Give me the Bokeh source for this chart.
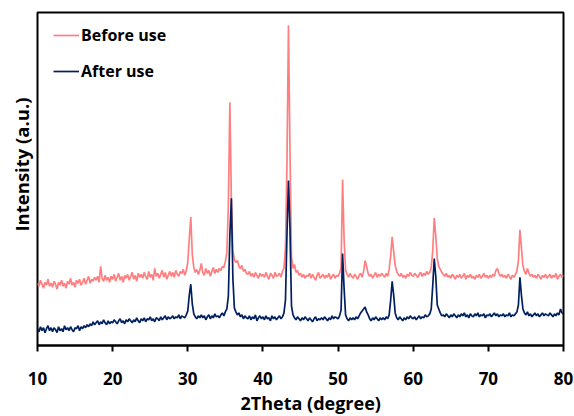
from bokeh.plotting import figure
from bokeh.models import Range1d, FixedTicker, Legend, LegendItem, Title
from bokeh.embed import file_html
from bokeh.resources import INLINE

# 2Theta sampling: start 10 deg, step 0.2 deg
x_start = 10.0
x_step = 0.2

# Intensity (arbitrary units)
before_use = [
    63, 60, 66, 62, 58, 64, 61, 67, 60, 63,
    59, 65, 62, 57, 64, 61, 66, 60, 63, 58,
    65, 62, 68, 61, 64, 59, 66, 63, 67, 61,
    64, 68, 62, 66, 70, 63, 67, 65, 69, 66,
    70, 64, 80, 68, 65, 71, 66, 69, 64, 70,
    67, 72, 65, 69, 73, 66, 70, 64, 71, 68,
    72, 66, 70, 74, 67, 71, 65, 73, 69, 72,
    68, 74, 70, 67, 75, 69, 72, 66, 78, 70,
    73, 68, 72, 76, 69, 74, 67, 71, 75, 70,
    74, 69, 76, 72, 70, 75, 73, 77, 71, 76,
    84, 108, 130, 92, 79, 74, 77, 72, 76, 83,
    74, 71, 78, 73, 76, 70, 75, 79, 73, 77,
    74, 78, 76, 80, 79, 85, 94, 142, 246, 148,
    96, 87, 84, 86, 80, 78, 81, 75, 77, 73,
    72, 75, 70, 73, 69, 74, 71, 68, 73, 70,
    72, 69, 74, 70, 67, 73, 71, 68, 74, 70,
    71, 73, 69, 75, 78, 99, 185, 324, 198, 90,
    78, 82, 74, 76, 71, 73, 69, 72, 68, 71,
    70, 73, 68, 72, 69, 66, 71, 74, 68, 70,
    72, 68, 71, 69, 73, 67, 70, 72, 68, 71,
    70, 73, 79, 168, 108, 76, 72, 69, 73, 70,
    68, 72, 70, 67, 71, 73, 69, 75, 86, 80,
    73, 70, 72, 68, 71, 74, 69, 72, 70, 73,
    71, 69, 73, 70, 77, 91, 110, 95, 81, 75,
    72, 70, 73, 69, 71, 68, 72, 70, 74, 71,
    70, 73, 71, 69, 72, 74, 70, 73, 71, 75,
    72, 74, 79, 96, 129, 111, 88, 80, 77, 74,
    72, 70, 73, 69, 71, 68, 72, 70, 67, 71,
    69, 72, 68, 70, 73, 67, 71, 69, 72, 68,
    70, 67, 71, 69, 72, 68, 70, 73, 69, 71,
    68, 71, 69, 72, 70, 76, 78, 73, 70, 72,
    69, 71, 68, 72, 70, 67, 71, 69, 72, 75,
    86, 117, 99, 81, 75, 72, 78, 73, 70, 72,
    69, 71, 68, 72, 70, 67, 71, 69, 72, 68,
    70, 72, 68, 71, 69, 73, 67, 70, 72, 69,
    71,
]

after_use = [
    17, 14, 19, 15, 18, 13, 17, 20, 15, 18,
    14, 18, 16, 13, 19, 15, 17, 14, 20, 16,
    18, 15, 19, 16, 14, 18, 17, 20, 15, 19,
    17, 20, 18, 21, 19, 22, 20, 24, 21, 23,
    25, 21, 24, 22, 26, 23, 21, 25, 22, 24,
    23, 26, 24, 22, 25, 27, 23, 25, 22, 26,
    24, 27, 25, 23, 26, 24, 28, 25, 23, 27,
    25, 28, 24, 27, 26, 29, 25, 27, 24, 28,
    27, 25, 29, 26, 28, 30, 26, 29, 27, 28,
    30, 27, 29, 28, 31, 27, 30, 29, 28, 31,
    35, 51, 62, 42, 32, 29, 27, 30, 28, 31,
    28, 30, 26, 29, 31, 27, 30, 28, 32, 29,
    30, 28, 31, 33, 30, 34, 37, 50, 112, 149,
    68, 38, 34, 31, 33, 29, 31, 27, 30, 28,
    27, 30, 26, 29, 27, 31, 25, 28, 30, 27,
    29, 26, 30, 27, 28, 25, 30, 27, 29, 26,
    28, 30, 27, 29, 33, 46, 112, 167, 118, 40,
    31, 28, 26, 29, 27, 25, 28, 26, 29, 27,
    25, 28, 26, 24, 27, 29, 25, 27, 26, 28,
    26, 29, 27, 25, 28, 26, 30, 27, 29, 28,
    27, 30, 36, 93, 58, 31, 27, 25, 28, 26,
    28, 26, 29, 27, 30, 33, 35, 37, 39, 34,
    31, 27, 25, 28, 26, 29, 27, 25, 28, 26,
    28, 26, 29, 27, 31, 46, 65, 51, 33, 28,
    26, 29, 27, 25, 28, 26, 29, 27, 30, 28,
    27, 29, 26, 28, 30, 27, 29, 28, 31, 29,
    30, 32, 37, 61, 88, 70, 41, 37, 33, 30,
    31, 29, 32, 30, 28, 31, 29, 32, 30, 28,
    31, 29, 32, 30, 33, 29, 31, 28, 32, 30,
    29, 32, 30, 33, 29, 31, 30, 32, 28, 31,
    30, 32, 29, 31, 33, 30, 32, 29, 31, 30,
    32, 29, 31, 30, 33, 29, 31, 30, 32, 34,
    41, 69, 51, 37, 33, 31, 34, 30, 32, 29,
    31, 33, 30, 32, 29, 31, 33, 30, 32, 31,
    30, 33, 31, 29, 32, 30, 33, 31, 37, 33,
    32,
]

two_theta = [round(x_start + i * x_step, 1) for i in range(len(before_use))]

x_ticks = [10, 20, 30, 40, 50, 60, 70, 80]
series_labels = ["Before use", "After use"]
x_title = "2Theta (degree)"
y_title = "Intensity (a.u.)"

FONT = "Open Sans"

p = figure(width=574, height=416, output_backend="svg", toolbar_location=None,
           x_range=Range1d(10, 80), y_range=Range1d(0, 337),
           min_border_left=37, min_border_right=11, min_border_top=12,
           min_border_bottom=67)

p.xgrid.visible = False
p.ygrid.visible = False
p.outline_line_color = "#000000"
p.outline_line_width = 2
p.background_fill_color = "white"
p.border_fill_color = "white"

r1 = p.line(two_theta, before_use, line_color="#FF7F80", line_width=1.7)
r2 = p.line(two_theta, after_use, line_color="#002060", line_width=1.7)

xa = p.xaxis[0]
xa.ticker = FixedTicker(ticks=x_ticks)
xa.axis_line_color = "#000000"
xa.axis_line_width = 2
xa.major_tick_line_color = "#000000"
xa.major_tick_line_width = 2
xa.major_tick_out = 6
xa.major_tick_in = 0
xa.minor_tick_line_color = None
xa.major_label_text_font = FONT
xa.major_label_text_font_style = "bold"
xa.major_label_text_font_size = "17px"
xa.major_label_text_color = "#000000"
xa.major_label_standoff = 20

p.yaxis.visible = False

# x-axis title (slightly right of the frame centre, as in the original)
p.add_layout(Title(text=x_title, align="left", offset=203, standoff=3,
                   text_font=FONT, text_font_style="bold",
                   text_font_size="18px", text_color="#000000"), "below")

# y-axis title (a little above the frame centre, as in the original)
p.add_layout(Title(text=y_title, align="left", offset=114, standoff=8,
                   text_font=FONT, text_font_style="bold",
                   text_font_size="18.5px", text_color="#000000"), "left")

legend = Legend(items=[LegendItem(label=series_labels[0], renderers=[r1]),
                       LegendItem(label=series_labels[1], renderers=[r2])],
                location=(16, 263), orientation="vertical", spacing=14,
                padding=0, margin=0, glyph_width=26, glyph_height=20,
                label_height=20, label_standoff=2,
                border_line_color=None, background_fill_alpha=0,
                label_text_font=FONT, label_text_font_style="bold",
                label_text_font_size="16px", label_text_color="#000000")
p.add_layout(legend)

open("out.html", "w").write(file_html(p, INLINE))
